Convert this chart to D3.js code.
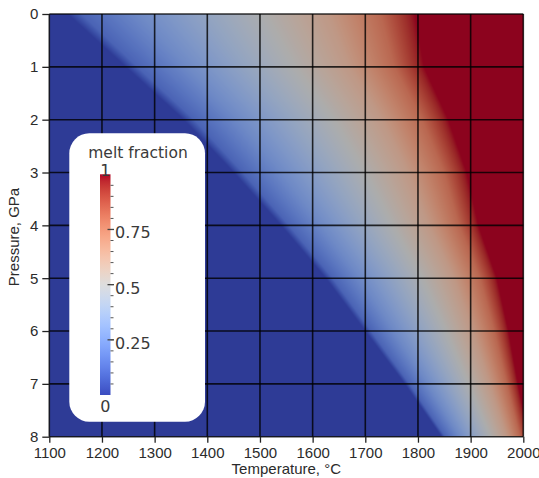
<!DOCTYPE html>
<html><head><meta charset="utf-8">
<script src="https://cdn.jsdelivr.net/npm/d3@7/dist/d3.min.js"></script>
<style>body{margin:0;background:#fff}svg{display:block}</style>
</head><body>
<svg id="chart" width="539" height="478"></svg>
<script>
// ---- data ----
const tempTicks = [1100,1200,1300,1400,1500,1600,1700,1800,1900,2000];
const pressureTicks = [0,1,2,3,4,5,6,7,8];
const pressureGPa = [0,1,2,3,4,5,6,7,8];
const solidusC  = [1135,1245,1355,1450,1540,1625,1700,1775,1845];
const liquidusC = [1795,1812,1858,1893,1915,1950,1972,1990,2010];
// melt fraction vs normalised temperature between solidus and liquidus
const thetaStops = [0,0.04,0.2,0.45,0.75,0.9,1];
const meltStops  = [0,0.12,0.25,0.42,0.63,0.8,1];
const legendTicks = [0,0.25,0.5,0.75,1];
const legendTickLabels = ["0","0.25","0.5","0.75","1"];
const legendTitle = "melt fraction";
const xTitle = "Temperature, °C";
const yTitle = "Pressure, GPa";
// cool-to-warm colour table
const coolwarm = ["#3b4cc0","#445acc","#4d68d7","#5775e1","#6282ea","#6c8ef1","#779af7","#82a5fb","#8db0fe","#98b9ff","#a3c2ff","#aec9fd","#b8d0f9","#c2d5f4","#ccd9ee","#d5dbe6","#dddddd","#e5d8d1","#ecd3c5","#f1ccb9","#f5c4ad","#f7bba0","#f7b194","#f7a687","#f49a7b","#f18d6f","#ec7f63","#e57058","#de604d","#d55042","#cb3e38","#c0282f","#b40426"];

// ---- layout ----
const W = 539, H = 478;
const plot = {x0: 49.3, x1: 523.3, y0: 14, y1: 436.7};
const svg = d3.select("#chart");
svg.append("rect").attr("width", W).attr("height", H).attr("fill", "#fff");

const x = d3.scaleLinear().domain([1100, 2000]).range([plot.x0, plot.x1]);
const y = d3.scaleLinear().domain([0, 8]).range([plot.y0, plot.y1]);
const cw = d3.scaleLinear().domain(coolwarm.map((c,i)=>i/(coolwarm.length-1))).range(coolwarm).interpolate(d3.interpolateRgb).clamp(true);
const solAt = d3.scaleLinear().domain(pressureGPa).range(solidusC);
const liqAt = d3.scaleLinear().domain(pressureGPa).range(liquidusC);
const melt = d3.scaleLinear().domain(thetaStops).range(meltStops).clamp(true);
const shade = 0.78;

// ---- heat map (rasterised through the scales) ----
const pw = Math.round(plot.x1 - plot.x0), ph = Math.round(plot.y1 - plot.y0);
const cv = document.createElement("canvas");
cv.width = pw; cv.height = ph;
const ctx = cv.getContext("2d");
const img = ctx.createImageData(pw, ph);
for (let j = 0; j < ph; j++) {
  const P = y.invert(plot.y0 + (j + 0.5) * (plot.y1 - plot.y0) / ph);
  const ts = solAt(P), tl = liqAt(P);
  for (let i = 0; i < pw; i++) {
    const T = x.invert(plot.x0 + (i + 0.5) * (plot.x1 - plot.x0) / pw);
    const th = (T - ts) / (tl - ts);
    const F = th <= 0 ? 0 : melt(th);
    const c = d3.rgb(cw(F));
    const k = (j * pw + i) * 4;
    img.data[k] = c.r * shade; img.data[k+1] = c.g * shade; img.data[k+2] = c.b * shade; img.data[k+3] = 255;
  }
}
ctx.putImageData(img, 0, 0);
svg.append("image")
  .attr("x", plot.x0).attr("y", plot.y0)
  .attr("width", plot.x1 - plot.x0).attr("height", plot.y1 - plot.y0)
  .attr("preserveAspectRatio", "none")
  .attr("href", cv.toDataURL());

// ---- grid ----
const grid = svg.append("g").attr("stroke", "#000").attr("stroke-opacity", 0.8).attr("stroke-width", 1.6);
grid.selectAll("line.v").data(tempTicks).join("line").attr("class","v")
  .attr("x1", d => x(d)).attr("x2", d => x(d)).attr("y1", plot.y0).attr("y2", plot.y1);
grid.selectAll("line.h").data(pressureTicks).join("line").attr("class","h")
  .attr("y1", d => y(d)).attr("y2", d => y(d)).attr("x1", plot.x0).attr("x2", plot.x1);

// ---- axes ----
const font = "'Liberation Sans', Arial, sans-serif";
const xAxis = svg.append("g").attr("transform", `translate(0,${plot.y1})`)
  .call(d3.axisBottom(x).tickValues(tempTicks).tickFormat(d3.format("d")).tickSize(6).tickSizeOuter(0).tickPadding(5));
const yAxis = svg.append("g").attr("transform", `translate(${plot.x0},0)`)
  .call(d3.axisLeft(y).tickValues(pressureTicks).tickFormat(d3.format("d")).tickSize(7).tickSizeOuter(0).tickPadding(4));
[xAxis, yAxis].forEach(a => {
  a.select(".domain").remove();
  a.selectAll(".tick line").attr("stroke", "#222").attr("stroke-width", 1.3);
  a.selectAll(".tick text").attr("fill", "#2b2b2b").style("font-family", font).style("font-size", "15px");
});
svg.append("text").attr("x", (plot.x0 + plot.x1) / 2).attr("y", 474)
  .attr("text-anchor", "middle").attr("fill", "#2b2b2b")
  .style("font-family", font).style("font-size", "15px").text(xTitle);
svg.append("text").attr("transform", `translate(19,237) rotate(-90)`)
  .attr("text-anchor", "middle").attr("fill", "#2b2b2b")
  .style("font-family", font).style("font-size", "15px").text(yTitle);

// ---- legend ----
const lg = svg.append("g");
lg.append("rect").attr("x", 69.3).attr("y", 133.3).attr("width", 135.7).attr("height", 288.4)
  .attr("rx", 20).attr("fill", "#fff");
const defs = svg.append("defs");
const grad = defs.append("linearGradient").attr("id", "cwGrad")
  .attr("x1", 0).attr("x2", 0).attr("y1", 1).attr("y2", 0);
grad.selectAll("stop").data(coolwarm).join("stop")
  .attr("offset", (d,i) => i/(coolwarm.length-1)).attr("stop-color", d => d);
const ly = d3.scaleLinear().domain([0, 1]).range([395, 174.3]);
const barX = 100, barW = 10.5;
lg.append("rect").attr("x", barX).attr("y", ly(1)).attr("width", barW).attr("height", ly(0) - ly(1))
  .attr("fill", "url(#cwGrad)");
const minor = d3.range(1, 20).map(i => i / 20);
lg.selectAll("line.minor").data(minor).join("line").attr("class", "minor")
  .attr("x1", barX + barW).attr("x2", barX + barW + 3)
  .attr("y1", d => ly(d)).attr("y2", d => ly(d))
  .attr("stroke", "#555").attr("stroke-width", 1);
const lfont = "'DejaVu Sans', sans-serif";
lg.append("text").attr("x", 138).attr("y", 158).attr("text-anchor", "middle")
  .attr("fill", "#3a3a3a").style("font-family", lfont).style("font-size", "15.5px").text(legendTitle);
const mids = legendTicks.filter(d => d > 0 && d < 1);
lg.selectAll("line.major").data(mids).join("line").attr("class", "major")
  .attr("x1", barX + barW - 3).attr("x2", barX + barW + 3.5)
  .attr("y1", d => ly(d)).attr("y2", d => ly(d))
  .attr("stroke", "#444").attr("stroke-width", 1.3);
lg.selectAll("text.lab").data(legendTicks).join("text").attr("class", "lab")
  .attr("x", d => (d === 0 || d === 1) ? barX + barW / 2 : 115)
  .attr("y", d => d === 1 ? ly(1) + 2 : d === 0 ? ly(0) + 17 : ly(d) + 9)
  .attr("text-anchor", d => (d === 0 || d === 1) ? "middle" : "start")
  .attr("fill", "#3a3a3a").style("font-family", lfont).style("font-size", "16px")
  .text((d,i) => legendTickLabels[i]);
</script>
</body></html>
